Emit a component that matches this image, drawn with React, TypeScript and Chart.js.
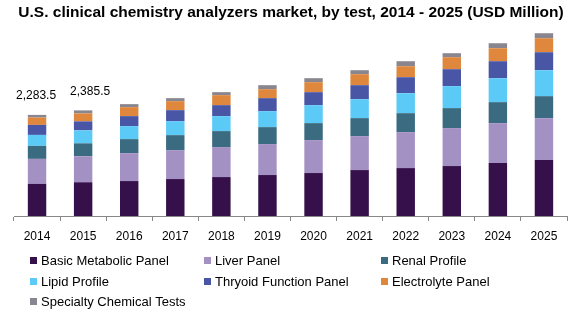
import React, { useEffect, useRef } from "react";
import { Chart, registerables } from "chart.js";

Chart.register(...registerables);

const years = ["2014", "2015", "2016", "2017", "2018", "2019", "2020", "2021", "2022", "2023", "2024", "2025"];

const basicMetabolic = [726, 762, 789, 834, 879, 925, 970, 1037, 1082, 1128, 1195, 1263];
const liverPanel = [564, 586, 631, 654, 677, 699, 744, 767, 812, 857, 902, 947];
const renalProfile = [293, 293, 316, 338, 361, 383, 383, 406, 428, 451, 474, 496];
const lipidProfile = [248, 293, 293, 316, 338, 361, 406, 428, 451, 496, 541, 586];
const thyroidPanel = [226, 203, 226, 248, 248, 293, 293, 316, 361, 383, 383, 406];
const electrolytePanel = [165, 180, 203, 203, 226, 203, 226, 248, 248, 271, 293, 316];
const specialtyTests = [61, 68, 68, 68, 68, 90, 90, 90, 113, 90, 113, 113];

const totalLabels = ["2,283.5", "2,385.5"];

const seriesNames = [
  "Basic Metabolic Panel",
  "Liver Panel",
  "Renal Profile",
  "Lipid Profile",
  "Thryoid Function Panel",
  "Electrolyte Panel",
  "Specialty Chemical Tests",
];
const seriesColors = ["#36104a", "#a491c4", "#3a6b81", "#5ccaf6", "#4955a5", "#df883d", "#8a8690"];
const seriesData = [basicMetabolic, liverPanel, renalProfile, lipidProfile, thyroidPanel, electrolytePanel, specialtyTests];

const TITLE = "U.S. clinical chemistry analyzers market, by test, 2014 - 2025 (USD Million)";
const FONT = "'Liberation Sans', Arial, sans-serif";

const overlayPlugin = {
  id: "overlay",
  afterDraw(chart: any) {
    const ctx = chart.ctx;
    ctx.save();
    // title
    ctx.fillStyle = "#000";
    ctx.font = `bold 15.5px ${FONT}`;
    ctx.textAlign = "center";
    ctx.textBaseline = "middle";
    ctx.fillText(TITLE, 291, 13);

    // total labels above first bars
    const n = chart.data.datasets.length;
    const lastMeta = chart.getDatasetMeta(n - 1);
    ctx.font = `12px ${FONT}`;
    const dx = [-1, 7];
    totalLabels.forEach((lab, i) => {
      const bar = lastMeta.data[i];
      if (!bar) return;
      ctx.fillText(lab, bar.x + dx[i], bar.y - 19);
    });

    // legend
    ctx.font = `13px ${FONT}`;
    ctx.textAlign = "left";
    const colX = [30, 204, 381];
    const rowY = [261, 282, 302];
    chart.data.datasets.forEach((ds: any, i: number) => {
      const c = i % 3;
      const r = Math.floor(i / 3);
      const x = colX[c];
      const y = rowY[r];
      ctx.fillStyle = ds.backgroundColor;
      ctx.fillRect(x, y - 4, 7, 7);
      ctx.fillStyle = "#000";
      ctx.fillText(ds.label, x + 11, y);
    });
    ctx.restore();
  },
};

export default function App() {
  const ref = useRef<HTMLCanvasElement>(null);
  useEffect(() => {
    document.body.style.margin = "0";
    const chart = new Chart(ref.current!, {
      type: "bar",
      data: {
        labels: years,
        datasets: seriesNames.map((name, i) => ({
          label: name,
          data: seriesData[i],
          backgroundColor: seriesColors[i],
          borderWidth: 0,
          categoryPercentage: 1,
          barPercentage: 0.4,
        })),
      },
      options: {
        responsive: false,
        animation: false,
        layout: { padding: { top: 30, left: 14, right: 10, bottom: 0 } },
        plugins: {
          legend: { display: false },
          title: { display: false },
          tooltip: { enabled: false },
        },
        scales: {
          x: {
            stacked: true,
            grid: {
              display: true,
              drawOnChartArea: false,
              drawTicks: true,
              tickLength: 5,
              color: "#888888",
              offset: true,
            },
            border: { display: true, color: "#888888", width: 1 },
            ticks: {
              color: "#000",
              font: { size: 12, family: FONT },
              padding: 8,
              maxRotation: 0,
              autoSkip: false,
            },
            afterFit: (scale: any) => {
              scale.height = 106;
            },
          },
          y: {
            stacked: true,
            display: false,
            min: 0,
            max: 4200,
          },
        },
      },
      plugins: [overlayPlugin],
    });
    return () => chart.destroy();
  }, []);
  return (
    <div style={{ width: 577, height: 322, background: "#fff" }}>
      <canvas ref={ref} width={577} height={322} />
    </div>
  );
}
